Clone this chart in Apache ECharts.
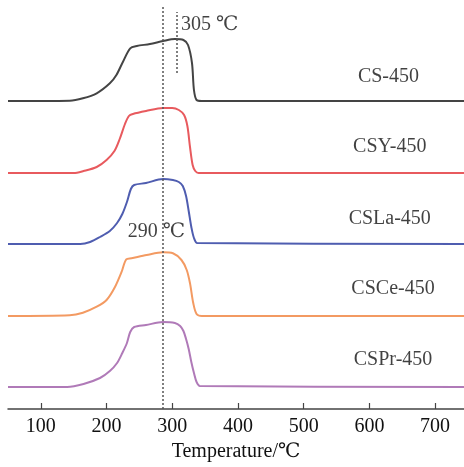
<!DOCTYPE html>
<html>
<head>
<meta charset="utf-8">
<script src="https://cdn.jsdelivr.net/npm/echarts@6/dist/echarts.min.js"></script>
<style>html,body{margin:0;padding:0;background:#fff}#c{width:464px;height:467px}</style>
</head>
<body>
<div id="c"></div>
<script>
// Temperature (x) and signal (stacked display value) arrays
const csT   = [50,144,164,185,205,215,225,236,246,266,286,304,317,324,330,333,337,345,744];
const csV   = [308,308.3,310.7,315.7,325.7,334,347.3,360.7,363,365,368,370,369,364,346,319,309,308,308];
const csyT  = [50,150,165,185,200,212,220,228,234,240,260,286,300,310,318,323,327,331,335,340,744];
const csyV  = [236,236,238,242,249,258,270,285,293,295,298,301,301,299,294,283,262,244,238,236,236];
const cslaT = [50,160,175,190,205,216,224,231,237,242,260,286,301,310,316,321,325,329,333,338,744];
const cslaV = [165,165,167,172,178,186,195,207,220,224,226,230,229,227,223,213,198,182,171,166,165];
const csceT = [50,144,164,185,200,213,223,230,238,261,286,301,314,322,327,332,337,345,744];
const csceV = [93,93.7,96.3,102.3,109,122.3,137.3,149.7,150.7,154,156.7,155.7,149,139,125.7,105.7,95,93,93];
const csprT = [50,140,165,190,205,216,224,231,236,242,260,286,304,312,317,321,325,329,333,337,342,744];
const csprV = [22,22,25,31,38,46,56,66,77,82,84,87,86,83,78,70,60,47,36,27,23,22];

const names  = ['CS-450','CSY-450','CSLa-450','CSCe-450','CSPr-450'];
const colors = ['#444444','#e85a5e','#4f5db0','#f39a62','#b07ab8'];
const tickValues = [100,200,300,400,500,600,700];

// Annotation positions (temperature, display value, text)
const labelT = [629,631,631,636,636,276,357];
const labelV = [332,262,190,120,49,177,384];
const labelText = ['CS-450','CSY-450','CSLa-450','CSCe-450','CSPr-450','290 ℃','305 ℃'];

// Reference lines
const peakLineT = 286;
const peakLine2T = 306.6;

const zip = (a,b) => a.map((x,i)=>[x,b[i]]);
const seriesT = [csT,csyT,cslaT,csceT,csprT];
const seriesV = [csV,csyV,cslaV,csceV,csprV];

const font = 'Liberation Serif, Times New Roman, DejaVu Serif, serif';

const series = names.map((n,i)=>({
  name:n, type:'line', data: zip(seriesT[i], seriesV[i]),
  showSymbol:false, smooth:0.3,
  lineStyle:{color:colors[i], width:2}, itemStyle:{color:colors[i]}, z:2
}));

series[0].markLine = {
  silent:true, symbol:'none', label:{show:false},
  lineStyle:{color:'#555', width:1.5, type:[2,2]},
  data:[
    [{coord:[peakLineT,0]},{coord:[peakLineT,404]}],
    [{coord:[peakLine2T,336]},{coord:[peakLine2T,397]}]
  ]
};

series.push({
  type:'scatter', symbolSize:1, itemStyle:{color:'rgba(0,0,0,0)'}, silent:true, z:5,
  data: labelT.map((t,i)=>[t,labelV[i],labelText[i]]),
  label:{show:true, position:'inside', formatter:p=>p.value[2], color:'#111', fontSize:20, fontFamily:font}
});

const chart = echarts.init(document.getElementById('c'));
chart.setOption({
  animation:false,
  grid:{left:8, right:0, top:0, bottom:58},
  xAxis:{
    type:'value', min:50, max:744,
    name:'Temperature/℃', nameLocation:'middle', nameGap:26,
    nameTextStyle:{color:'#111', fontSize:20, fontFamily:font},
    axisLine:{show:true, lineStyle:{color:'#444', width:1.5}},
    axisTick:{show:true, inside:true, length:6, customValues:tickValues, lineStyle:{color:'#444', width:1.2}},
    axisLabel:{customValues:tickValues, color:'#111', fontSize:20, fontFamily:font, margin:8},
    splitLine:{show:false}
  },
  yAxis:{type:'value', min:0, max:409, show:false},
  series: series
});
</script>
</body>
</html>
